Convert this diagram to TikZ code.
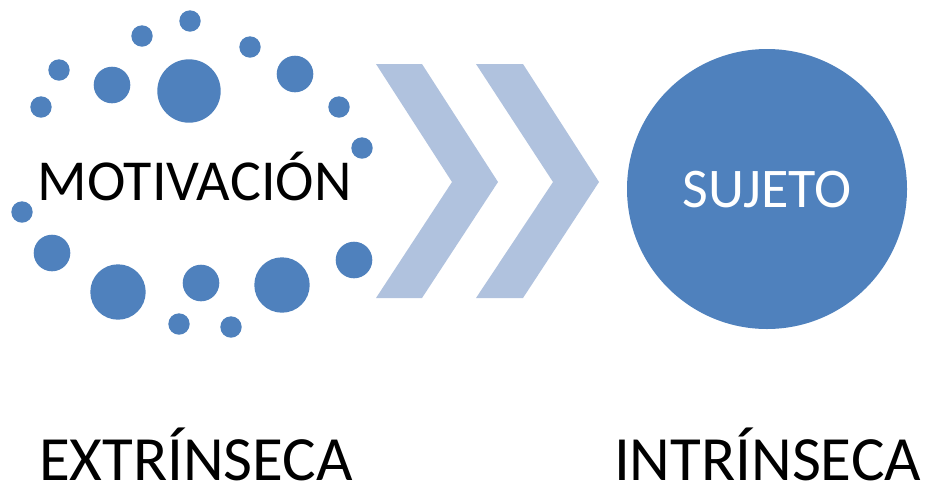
\documentclass[tikz,border=0pt]{standalone}
\usepackage{fontspec}
\setmainfont{Carlito}
\definecolor{dotblue}{HTML}{4F81BD}
\definecolor{chev}{HTML}{B0C2DE}
\begin{document}
\begin{tikzpicture}[x=1pt,y=-1pt,
  dot/.style={fill=dotblue,draw=none},
  chevron/.style={fill=chev,draw=none},
  lbl/.style={inner sep=0pt,anchor=base,text depth=0pt}]
\useasboundingbox (0,0) rectangle (925,488);
% dots
\foreach \x/\y/\r in {190/21/10.7,142/36/10.7,250/47/10.7,59/70/10.7,112/85/18.3,189/91/31.7,295/74/18.3,41/107/10.7,339/107/10.7,362/148/10.7,22/212/10.7,52/253/18.3,354/260/18.3,118/292/27.7,201/283/18.3,282/285/27.7,179/324/10.7,231/327/10.7}
  \fill[dot] (\x,\y) circle[radius=\r];
% chevrons
\fill[chevron] (376,64) -- (422,64) -- (498,182) -- (422,298) -- (376,298) -- (452,182) -- cycle;
\fill[chevron] (476,64) -- (523,64) -- (599,182) -- (523,298) -- (476,298) -- (553,182) -- cycle;
% big circle
\node[circle,fill=dotblue,minimum size=280pt,inner sep=0pt] (suj) at (767,189) {};
\node[lbl,text=white,font=\fontsize{56}{60}\selectfont] (sujt) at (767,207) {SUJETO};
\node[lbl,font=\fontsize{58}{62}\selectfont] (mot) at (194.5,200) {MOTIVACIÓN};
\node[lbl,font=\fontsize{63}{66}\selectfont] (ext) at (196,480) {EXTRÍNSECA};
\node[lbl,font=\fontsize{63}{66}\selectfont] (int) at (767.5,480) {INTRÍNSECA};
\end{tikzpicture}
\end{document}
